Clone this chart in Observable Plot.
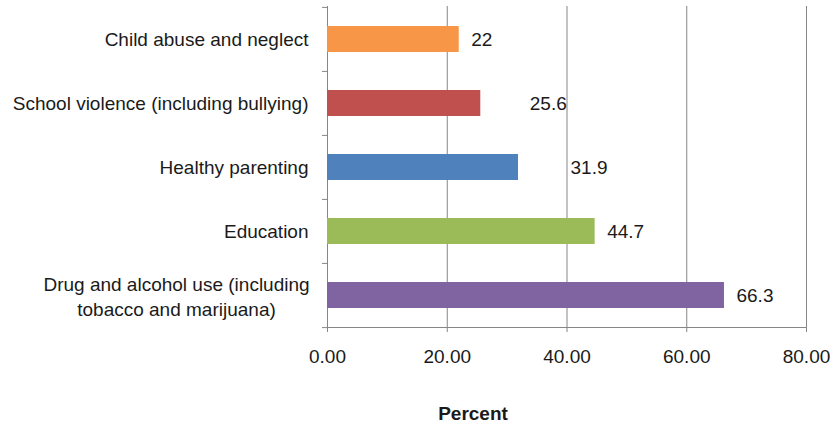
<!DOCTYPE html>
<html>
<head>
<meta charset="utf-8">
<script src="https://cdn.jsdelivr.net/npm/d3@7"></script>
<script src="https://cdn.jsdelivr.net/npm/@observablehq/plot@0.6"></script>
<style>
  html, body { margin: 0; padding: 0; background: #fff; }
  #chart svg { display: block; }
</style>
</head>
<body>
<div id="chart"></div>
<script>
const categories = [
  "Child abuse and neglect",
  "School violence (including bullying)",
  "Healthy parenting",
  "Education",
  "Drug and alcohol use (including\ntobacco and marijuana)"
];
const values = [22, 25.6, 31.9, 44.7, 66.3];
const colors = ["#F79646", "#C0504D", "#4F81BD", "#9BBB59", "#8064A2"];
const xTicks = [0, 20, 40, 60, 80];
const xLabel = "Percent";
// labels that were dragged further right in the original chart
const movedLabels = ["School violence (including bullying)", "Healthy parenting"];

const data = categories.map((c, i) => ({category: c, value: values[i], color: colors[i]}));
const single = data.filter(d => !d.category.includes("\n"));
const multi = data.filter(d => d.category.includes("\n"));
const font = "'Liberation Sans', Arial, sans-serif";
const grey = "#868686";
const ink = "#1a1a1a";
const lastCat = categories[categories.length - 1];

const W = 831, H = 432, mt = 6, mb = 105, ml = 327, mr = 25;
const plotH = H - mt - mb;

const plot = Plot.plot({
  width: W,
  height: H,
  marginTop: mt,
  marginBottom: mb,
  marginLeft: ml,
  marginRight: mr,
  style: {fontFamily: font, fontSize: "19px", color: ink, background: "#fff"},
  x: {domain: [0, 80]},
  y: {domain: categories, paddingInner: 0.6, paddingOuter: 0.3},
  marks: [
    Plot.gridX(xTicks, {stroke: grey, strokeOpacity: 1, strokeWidth: 1}),
    Plot.axisX({ticks: xTicks, tickFormat: d3.format(".2f"), tickSize: 5, tickPadding: 17, stroke: grey, fill: ink, label: null, fontSize: 19}),
    Plot.ruleX([0], {stroke: grey}),
    Plot.axisY({ticks: categories, tickSize: 5, tickFormat: () => "", dy: -plotH / 10, stroke: grey, label: null}),
    Plot.axisY({ticks: [lastCat], tickSize: 5, tickFormat: () => "", dy: plotH / 10, stroke: grey, label: null}),
    Plot.barX(data, {y: "category", x: "value", fill: "color"}),
    Plot.text(data.filter(d => !movedLabels.includes(d.category)), {y: "category", x: "value", text: d => String(d.value), textAnchor: "start", dx: 12, fill: ink, fontSize: 19}),
    Plot.text(data.filter(d => d.category === movedLabels[0]), {y: "category", x: "value", text: d => String(d.value), textAnchor: "start", dx: 49, fill: ink, fontSize: 19}),
    Plot.text(data.filter(d => d.category === movedLabels[1]), {y: "category", x: "value", text: d => String(d.value), textAnchor: "start", dx: 52, fill: ink, fontSize: 19}),
    Plot.text(single, {y: "category", x: 0, text: "category", textAnchor: "end", dx: -19, fill: ink, fontSize: 19}),
    Plot.text(multi, {y: "category", x: 0, text: "category", textAnchor: "middle", dx: -151, lineHeight: 1.3, fill: ink, fontSize: 19}),
    Plot.text([xLabel], {frameAnchor: "bottom", dx: -94, dy: 92, fontWeight: "bold", fill: ink, fontSize: 19}),
    Plot.ruleY([0], {y: null, x1: 0, x2: 80, dy: plotH / 2, stroke: grey, strokeWidth: 1.2})
  ]
});
document.getElementById("chart").appendChild(plot);
</script>
</body>
</html>
